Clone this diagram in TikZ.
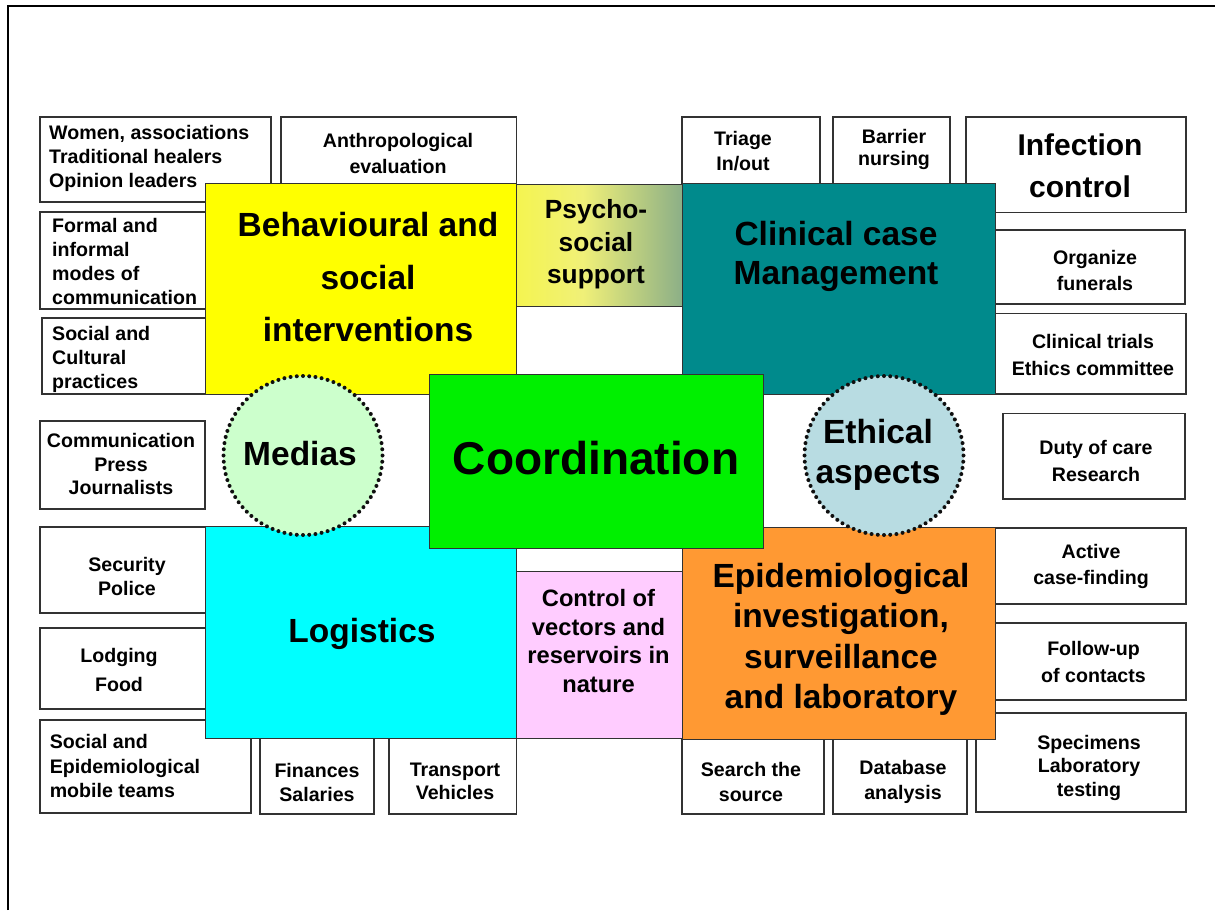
\documentclass[tikz,border=0pt]{standalone}
\usepackage{fontspec}
\setmainfont{Liberation Sans}
\usetikzlibrary{fit}
\definecolor{cYellow}{RGB}{255,255,0}
\definecolor{cTeal}{RGB}{0,138,140}
\definecolor{cGreen}{RGB}{0,240,0}
\definecolor{cCyan}{RGB}{0,255,255}
\definecolor{cPink}{RGB}{255,204,255}
\definecolor{cOrange}{RGB}{255,153,51}
\definecolor{cMedias}{RGB}{204,255,204}
\definecolor{cEthic}{RGB}{184,220,226}
\definecolor{cEdge}{RGB}{50,50,50}
\definecolor{cDot}{RGB}{15,15,15}
\definecolor{psyA}{RGB}{250,250,30}
\definecolor{psyB}{RGB}{240,240,120}
\definecolor{psyC}{RGB}{140,175,135}
\definecolor{psyD}{RGB}{40,125,125}
\pgfdeclarehorizontalshading{psyshade}{100bp}{color(0bp)=(psyA); color(45bp)=(psyB); color(75bp)=(psyC); color(100bp)=(psyD)}
\tikzset{
  wbox/.style={draw=cEdge, line width=1.2pt, fill=white, inner sep=0pt, outer sep=0pt},
  cbox/.style={draw=cEdge, line width=1pt, inner sep=0pt, outer sep=0pt},
  sm/.style={font=\fontsize{19.6}{#1}\selectfont\bfseries, align=center, inner sep=0pt},
  sm/.default=24,
  smleft/.style={font=\fontsize{19.6}{#1}\selectfont\bfseries, align=left, anchor=west, inner sep=0pt},
  smleft/.default=24,
  bigtxt/.style={font=\fontsize{33.5}{#1}\selectfont\bfseries, align=center, inner sep=0pt},
  bigtxt/.default=40,
  dotcirc/.style={circle, minimum size=159pt, inner sep=0pt},
}
\begin{document}
\begin{tikzpicture}[x=1pt,y=-1pt]
\useasboundingbox (0,0) rectangle (1215,910);
% frame
\coordinate (frBL) at (8,910);
\coordinate (frTL) at (8,6);
\coordinate (frTR) at (1215,6);
\draw[line width=2.6pt] (frBL) -- (frTL) -- (frTR);

% white boxes (behind)
\node[wbox, fit={(40,117) (271,202)}] (women) {};
\node[wbox, fit={(281,117) (516.5,186)}] (anthro) {};
\node[wbox, fit={(40,212) (215,309)}] (formal) {};
\node[wbox, fit={(42,318) (215,394)}] (soccult) {};
\node[wbox, fit={(40,421) (205,509)}] (comm) {};
\node[wbox, fit={(40,527) (215,613)}] (security) {};
\node[wbox, fit={(40,628) (215,709)}] (lodging) {};
\node[wbox, fit={(40,720) (251,813)}] (socepi) {};
\node[wbox, fit={(260,732) (374,814)}] (finances) {};
\node[wbox, fit={(389,732) (516.5,814)}] (transport) {};
\node[wbox, fit={(682,117) (820,188)}] (triage) {};
\node[wbox, fit={(833,117) (950,188)}] (barrier) {};
\node[wbox, fit={(966,117) (1186,212.5)}] (infection) {};
\node[wbox, fit={(990,230) (1185,304)}] (organize) {};
\node[wbox, fit={(990,313.5) (1186,394)}] (clintrials) {};
\node[wbox, fit={(1003,413.6) (1185,499)}] (duty) {};
\node[wbox, fit={(990,528) (1186,604)}] (active) {};
\node[wbox, fit={(990,623) (1186,700)}] (follow) {};
\node[wbox, fit={(976,713) (1186,812)}] (specimens) {};
\node[wbox, fit={(682,732) (824,814)}] (search) {};
\node[wbox, fit={(833,732) (967,814)}] (database) {};

% coloured boxes
\node[cbox, fill=cYellow, fit={(205,183) (516.5,394)}] (behav) {};
\node[cbox, shading=psyshade, fit={(516.5,184) (682,306)}] (psycho) {};
\node[cbox, fill=cTeal, fit={(682,183) (995,394)}] (clinical) {};
\node[cbox, fill=cCyan, fit={(205,526) (516.5,738)}] (logistics) {};
\node[cbox, fill=cPink, fit={(516.5,571) (682,738)}] (vectors) {};
\node[cbox, fill=cOrange, fit={(682,527) (995,739)}] (epi) {};
\node[cbox, fill=cGreen, fit={(429,374.6) (763,548)}] (coord) {};

% circles
\node[dotcirc, fill=cMedias] (medias) at (303,455.5) {};
\node[dotcirc, fill=cEthic] (ethical) at (884,455.5) {};
\foreach \c in {medias,ethical}{
  \foreach \a in {0,4.5,...,356}{
    \fill[cDot] (\c.center) ++(\a:79.5) circle (2pt);
  }
}

% labels of white boxes
\node[smleft] (women-t) at (49,158) {Women, associations\\Traditional healers\\Opinion leaders};
\node[sm=26.7] (anthro-t) at (398,153.5) {Anthropological\\evaluation};
\node[smleft] (formal-t) at (52,261) {Formal and\\informal\\modes of\\communication};
\node[smleft] (soccult-t) at (52,359) {Social and\\Cultural\\practices};
\node[sm=23.8] (comm-t) at (121,464) {Communication\\Press\\Journalists};
\node[sm] (security-t) at (127,576.5) {Security\\Police};
\node[sm=28.4] (lodging-t) at (119,670) {Lodging\\Food};
\node[smleft=24.3] (socepi-t) at (49.6,766) {Social and\\Epidemiological\\mobile teams};
\node[sm] (finances-t) at (317,782.5) {Finances\\Salaries};
\node[sm=23.4] (transport-t) at (455,781.5) {Transport\\Vehicles};
\node[sm=24.4] (triage-t) at (743,151) {Triage\\In/out};
\node[sm=22] (barrier-t) at (894,149.5) {Barrier\\nursing};
\node[font=\fontsize{30}{42.4}\selectfont\bfseries, align=center, inner sep=0pt] (infection-t) at (1080,166) {Infection\\control};
\node[sm=26.7] (organize-t) at (1095,270.5) {Organize\\funerals};
\node[sm=27.6] (clintrials-t) at (1093,355) {Clinical trials\\Ethics committee};
\node[sm=27.4] (duty-t) at (1096,461) {Duty of care\\Research};
\node[sm=26.6] (active-t) at (1091,566.5) {Active\\case-finding};
\node[sm=27] (follow-t) at (1093.5,661.5) {Follow-up\\of contacts};
\node[sm=23.5] (specimens-t) at (1089,767.5) {Specimens\\Laboratory\\testing};
\node[sm=24.3] (search-t) at (751,782) {Search the\\source};
\node[sm=24.3] (database-t) at (903,782) {Database\\analysis};

% labels of coloured boxes
\node[bigtxt=52.5] (behav-t) at (368,277.5) {Behavioural and\\social\\interventions};
\node[font=\fontsize{26.3}{32.5}\selectfont\bfseries, align=center, inner sep=0pt] (psycho-t) at (596,244.5) {Psycho-\\social\\support};
\node[bigtxt=39] (clinical-t) at (836,256) {Clinical case\\Management};
\node[font=\fontsize{46}{50}\selectfont\bfseries, inner sep=0pt] (coord-t) at (596,458.5) {Coordination};
\node[bigtxt] (logistics-t) at (362,634) {Logistics};
\node[font=\fontsize{23.7}{28.4}\selectfont\bfseries, align=center, inner sep=0pt] (vectors-t) at (598.5,641) {Control of\\vectors and\\reservoirs in\\nature};
\node[bigtxt=40.5] (epi-t) at (841,639.5) {Epidemiological\\investigation,\\surveillance\\and laboratory};
\node[bigtxt] (medias-t) at (300,453.5) {Medias};
\node[bigtxt] (ethical-t) at (878,455) {Ethical\\aspects};
\end{tikzpicture}
\end{document}
